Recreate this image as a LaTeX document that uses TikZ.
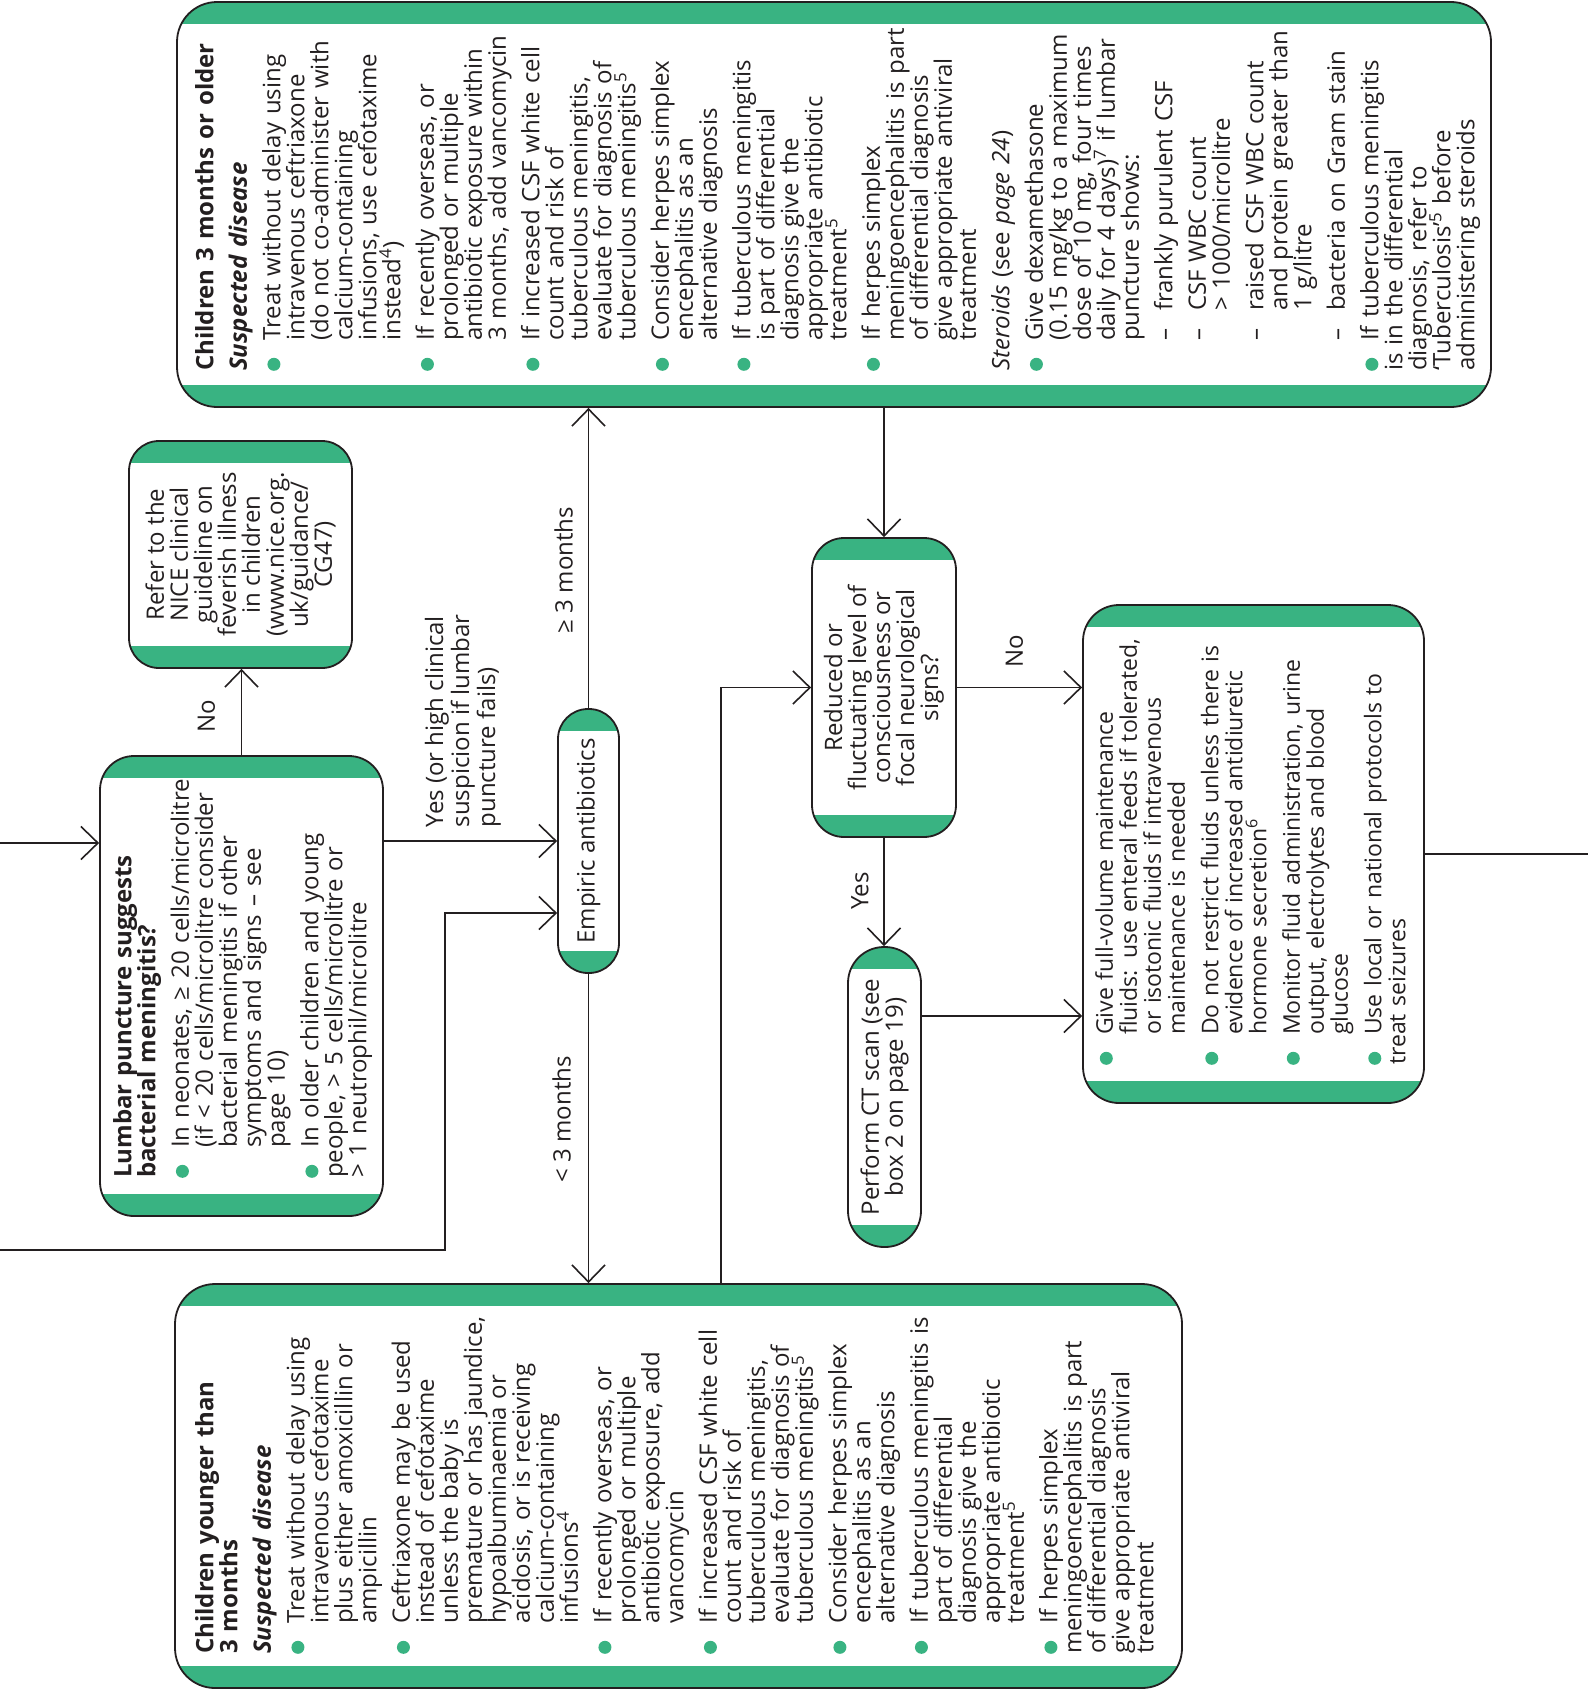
\documentclass[tikz,border=0pt]{standalone}
\usepackage{fontspec}
\setmainfont{Open Sans}
\usetikzlibrary{arrows.meta,positioning}

\definecolor{bgreen}{RGB}{57,179,130}
\definecolor{linec}{RGB}{35,31,32}

\newcommand{\bodyfont}{\fontsize{24}{24}\selectfont\lineskiplimit=-50pt\lineskip=0pt}
\newcommand{\smallbody}{\fontsize{23}{24}\selectfont\lineskiplimit=-50pt\lineskip=0pt}
\newcommand{\tset}{\setlength{\parskip}{9.5pt}\lineskiplimit=-50pt\lineskip=0pt}
\newcommand{\nl}{\hfil\break}
\newcommand{\bdot}{\tikz[baseline=0pt]\fill[bgreen] (0pt,6.5pt) circle[radius=6.5pt];}
\newcommand{\fitem}{\hangindent=30pt\hangafter=1\makebox[30pt][l]{\bdot}}
\newcommand{\bitem}{\par\fitem}
\newcommand{\ditem}{\par\hangindent=60pt\hangafter=1\leavevmode\hbox to 30pt{}\makebox[30pt][l]{–}}
\newcommand{\head}{\par}

\tikzset{
  panel/.style={draw=linec, line width=1.8pt, inner sep=0pt, rounded corners=#1,
    path picture={
      \fill[bgreen, sharp corners] (path picture bounding box.north west) rectangle ([yshift=-22pt]path picture bounding box.north east);
      \fill[bgreen, sharp corners] (path picture bounding box.south west) rectangle ([yshift=22pt]path picture bounding box.south east);
    }},
  txt/.style={rotate=90, anchor=north west, inner sep=0pt, align=left, text width=#1, text=linec, font=\bodyfont},
  ctxt/.style={rotate=90, inner sep=0pt, align=center, text=linec, font=\bodyfont},
  lbl/.style={rotate=90, inner sep=0pt, text=linec, font=\bodyfont},
  arr/.style={draw=linec, line width=1.6pt, -{Straight Barb[length=17pt,width=33pt]}},
  con/.style={draw=linec, line width=1.6pt},
}

\begin{document}
\begin{tikzpicture}[x=1pt,y=-1pt]
  \path[use as bounding box, fill=white] (0,0) rectangle (1588,1689);

  %boxes
  \node[panel=40pt, minimum width=1314pt, minimum height=405pt] (older) at (834,204.5) {};
  \node[panel=30pt, minimum width=223pt, minimum height=227pt] (refer) at (240.5,554.5) {};
  \node[panel=34pt, minimum width=283pt, minimum height=460pt] (lumbar) at (241.5,986) {};
  \node[panel=30pt, minimum width=61pt, minimum height=264pt] (empiric) at (588.5,841) {};
  \node[panel=32pt, minimum width=144pt, minimum height=299pt] (reduced) at (884,687.5) {};
  \node[panel=36pt, minimum width=73pt, minimum height=300pt] (ctscan) at (884.5,1097) {};
  \node[panel=36pt, minimum width=341pt, minimum height=498pt] (fluids) at (1253.5,854) {};
  \node[panel=40pt, minimum width=1007pt, minimum height=404pt] (younger) at (678.5,1486) {};

  %texts
  \node[txt=390pt] (oldertxt) at (195,371) {\tset
    \textbf{Children 3 months or older}
    \head\textbf{\textit{Suspected disease}}
    \bitem Treat without delay using\nl intravenous ceftriaxone\nl (do not co-administer with\nl calcium-containing\nl infusions, use cefotaxime\nl instead\textsuperscript{4})
    \bitem If recently overseas, or\nl prolonged or multiple\nl antibiotic exposure within\nl 3 months, add vancomycin
    \bitem If increased CSF white cell\nl count and risk of\nl tuberculous meningitis,\nl evaluate for diagnosis of\nl tuberculous meningitis\textsuperscript{5}
    \bitem Consider herpes simplex\nl encephalitis as an\nl alternative diagnosis
    \bitem If tuberculous meningitis\nl is part of differential\nl diagnosis give the\nl appropriate antibiotic\nl treatment\textsuperscript{5}
    \bitem If herpes simplex\nl meningoencephalitis is part\nl of differential diagnosis\nl give appropriate antiviral\nl treatment
    \head\textit{Steroids} (see \textit{page 24})
    \bitem Give dexamethasone\nl (0.15 mg/kg to a maximum\nl dose of 10 mg, four times\nl daily for 4 days)\textsuperscript{7} if lumbar\nl puncture shows:
    \ditem frankly purulent CSF
    \ditem CSF WBC count\nl > 1000/microlitre
    \ditem raised CSF WBC count\nl and protein greater than\nl 1 g/litre
    \ditem bacteria on Gram stain
    \bitem If tuberculous meningitis\nl is in the differential\nl diagnosis, refer to\nl ‘Tuberculosis’\textsuperscript{5} before\nl administering steroids};

  \node[txt=390pt] (youngertxt) at (195,1654) {\tset
    \textbf{Children younger than\nl 3 months}
    \head\textbf{\textit{Suspected disease}}
    \bitem Treat without delay using\nl intravenous cefotaxime\nl plus either amoxicillin or\nl ampicillin
    \bitem Ceftriaxone may be used\nl instead of cefotaxime\nl unless the baby is\nl premature or has jaundice,\nl hypoalbuminaemia or\nl acidosis, or is receiving\nl calcium-containing\nl infusions\textsuperscript{4}
    \bitem If recently overseas, or\nl prolonged or multiple\nl antibiotic exposure, add\nl vancomycin
    \bitem If increased CSF white cell\nl count and risk of\nl tuberculous meningitis,\nl evaluate for diagnosis of\nl tuberculous meningitis\textsuperscript{5}
    \bitem Consider herpes simplex\nl encephalitis as an\nl alternative diagnosis
    \bitem If tuberculous meningitis is\nl part of differential\nl diagnosis give the\nl appropriate antibiotic\nl treatment\textsuperscript{5}
    \bitem If herpes simplex\nl meningoencephalitis is part\nl of differential diagnosis\nl give appropriate antiviral\nl treatment};

  \node[txt=440pt] (lumbartxt) at (113,1178) {\tset
    \textbf{Lumbar puncture suggests\nl bacterial meningitis?}
    \bitem In neonates, ≥ 20 cells/microlitre\nl (if < 20 cells/microlitre consider\nl bacterial meningitis if other\nl symptoms and signs – see\nl page 10)
    \bitem In older children and young\nl people, > 5 cells/microlitre or\nl > 1 neutrophil/microlitre};

  \node[txt=470pt, font=\smallbody] (fluidstxt) at (1095,1065) {\tset
    \fitem Give full-volume maintenance\nl fluids: use enteral feeds if tolerated,\nl or isotonic fluids if intravenous\nl maintenance is needed
    \bitem Do not restrict fluids unless there is\nl evidence of increased antidiuretic\nl hormone secretion\textsuperscript{6}
    \bitem Monitor fluid administration, urine\nl output, electrolytes and blood\nl glucose
    \bitem Use local or national protocols to\nl treat seizures};

  \node[ctxt] (refertxt) at (refer.center) {Refer to the\\NICE clinical\\guideline on\\feverish illness\\in children\\(www.nice.org.\\uk/guidance/\\CG47)};
  \node[ctxt] (empirictxt) at (empiric.center) {Empiric antibiotics};
  \node[ctxt] (reducedtxt) at (reduced.center) {Reduced or\\fluctuating level of\\consciousness or\\focal neurological\\signs?};
  \node[ctxt] (cttxt) at (ctscan.center) {Perform CT scan (see\\box 2 on page 19)};

  %ends of the lines that leave the picture
  \coordinate (inA) at (0,843);
  \coordinate (inB) at (0,1250);
  \coordinate (bend) at (445,913);
  \coordinate (exitR) at (1588,852);

  %connectors
  \draw[arr] (inA) -- (inA -| lumbar.west);
  \draw[arr] (inB) -| (bend) -- (bend -| empiric.west);
  \draw[arr] (lumbar.north) -- node[pos=0.45, xshift=-35pt, lbl] {No} (lumbar.north |- refer.south);
  \draw[arr] (empiric.west -| lumbar.east) -- node[pos=0.68, yshift=13pt, lbl, anchor=south west, align=left] {Yes (or high clinical\\[2pt]suspicion if lumbar\\[2pt]puncture fails)} (empiric.west);
  \draw[arr] (empiric.north) -- node[pos=0.46, xshift=-25pt, lbl] {≥ 3 months} (empiric.north |- older.south);
  \draw[arr] (empiric.south) -- node[pos=0.47, xshift=-27pt, lbl] {< 3 months} (empiric.south |- younger.north);
  \draw[arr] (reduced.north |- older.south) -- (reduced.north);
  \draw[arr] ([xshift=42.5pt]younger.north) |- (reduced.west);
  \draw[arr] (reduced.east) -- node[pos=0.46, yshift=36pt, lbl] {No} (reduced.east -| fluids.west);
  \draw[arr] (reduced.south) -- node[pos=0.49, xshift=-24pt, lbl] {Yes} (reduced.south |- ctscan.north);
  \draw[arr] ([yshift=81pt]ctscan.east) -- ([yshift=81pt]ctscan.east -| fluids.west);
  \draw[con] (fluids.east) -- (fluids.east -| exitR);
\end{tikzpicture}
\end{document}
